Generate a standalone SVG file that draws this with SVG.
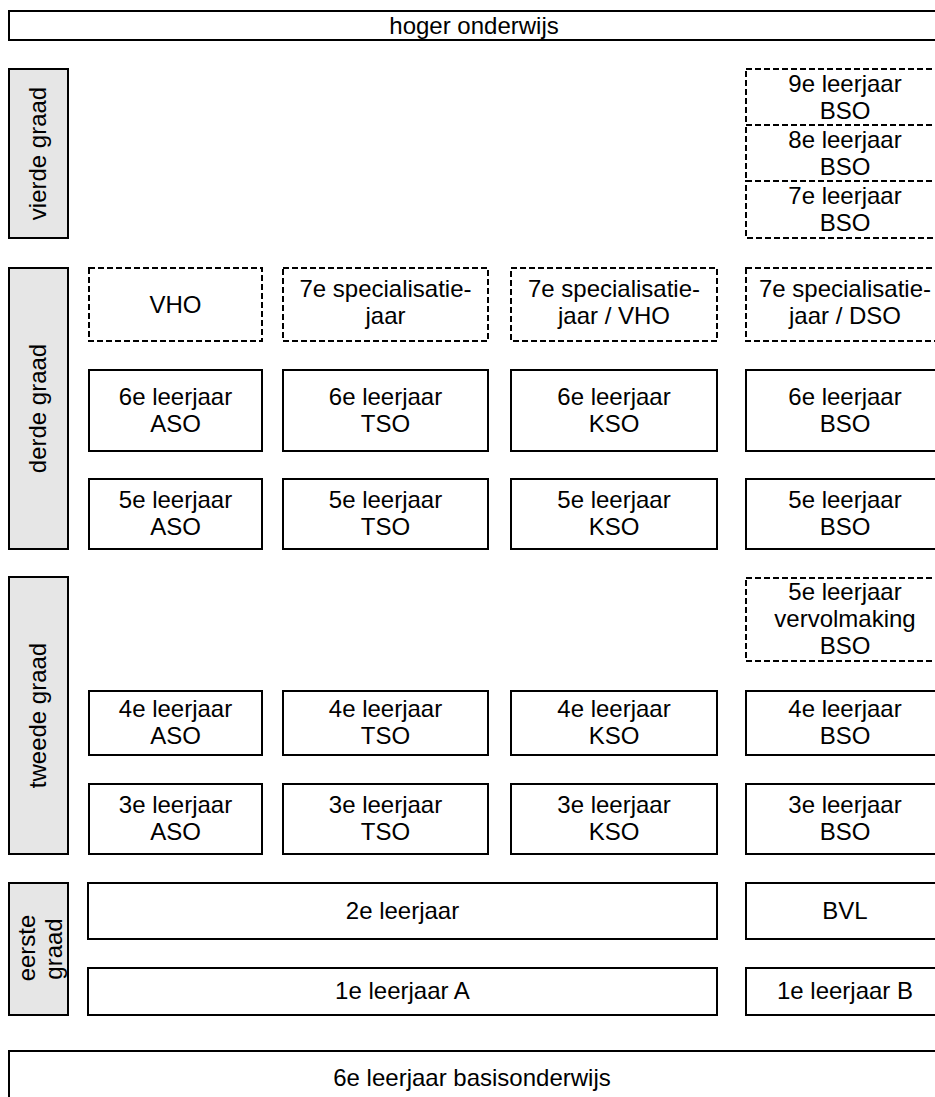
<svg xmlns="http://www.w3.org/2000/svg" width="935" height="1097" viewBox="0 0 935 1097">
<style>
.bx{fill:#fff;stroke:#000;stroke-width:2}
.ds{fill:#fff;stroke:#000;stroke-width:2;stroke-dasharray:6 3}
.sb{fill:#e6e6e6;stroke:#000;stroke-width:2}
text{font-family:"Liberation Sans",Arial,sans-serif;font-size:24px;fill:#000;text-anchor:middle}
</style>
<rect width="935" height="1097" fill="#fff"/>
<g id="hoger"><rect class="bx" x="9" y="11" width="935" height="29"/><text x="474" y="34">hoger onderwijs</text></g>

<g id="vierde-graad"><rect class="sb" x="9" y="69" width="59" height="169"/><text transform="translate(46,153.5) rotate(-90)">vierde graad</text></g>
<g id="derde-graad"><rect class="sb" x="9" y="268" width="59" height="281"/><text transform="translate(46,408.5) rotate(-90)">derde graad</text></g>
<g id="tweede-graad"><rect class="sb" x="9" y="577" width="59" height="277"/><text transform="translate(46,715.5) rotate(-90)">tweede graad</text></g>
<g id="eerste-graad"><rect class="sb" x="9" y="883" width="59" height="132"/><text transform="translate(35,948) rotate(-90)">eerste</text><text transform="translate(62,949) rotate(-90)">graad</text></g>

<g id="bso9"><rect class="ds" x="746" y="69" width="200" height="56"/><text x="845" y="92">9e leerjaar</text><text x="845" y="119">BSO</text></g>
<g id="bso8"><rect class="ds" x="746" y="125" width="200" height="56"/><text x="845" y="148">8e leerjaar</text><text x="845" y="175">BSO</text></g>
<g id="bso7"><rect class="ds" x="746" y="181" width="200" height="57"/><text x="845" y="204">7e leerjaar</text><text x="845" y="231">BSO</text></g>

<g id="vho"><rect class="ds" x="89" y="268" width="173" height="73"/><text x="175.5" y="313">VHO</text></g>
<g id="spec-tso"><rect class="ds" x="283" y="268" width="205" height="73"/><text x="385.5" y="297">7e specialisatie-</text><text x="385.5" y="324">jaar</text></g>
<g id="spec-kso"><rect class="ds" x="511" y="268" width="206" height="73"/><text x="614" y="297">7e specialisatie-</text><text x="614" y="324">jaar / VHO</text></g>
<g id="spec-bso"><rect class="ds" x="746" y="268" width="200" height="73"/><text x="845" y="297">7e specialisatie-</text><text x="845" y="324">jaar / DSO</text></g>

<g id="aso6"><rect class="bx" x="89" y="370" width="173" height="81"/><text x="175.5" y="405">6e leerjaar</text><text x="175.5" y="432">ASO</text></g>
<g id="tso6"><rect class="bx" x="283" y="370" width="205" height="81"/><text x="385.5" y="405">6e leerjaar</text><text x="385.5" y="432">TSO</text></g>
<g id="kso6"><rect class="bx" x="511" y="370" width="206" height="81"/><text x="614" y="405">6e leerjaar</text><text x="614" y="432">KSO</text></g>
<g id="bso6"><rect class="bx" x="746" y="370" width="200" height="81"/><text x="845" y="405">6e leerjaar</text><text x="845" y="432">BSO</text></g>

<g id="aso5"><rect class="bx" x="89" y="479" width="173" height="70"/><text x="175.5" y="508">5e leerjaar</text><text x="175.5" y="535">ASO</text></g>
<g id="tso5"><rect class="bx" x="283" y="479" width="205" height="70"/><text x="385.5" y="508">5e leerjaar</text><text x="385.5" y="535">TSO</text></g>
<g id="kso5"><rect class="bx" x="511" y="479" width="206" height="70"/><text x="614" y="508">5e leerjaar</text><text x="614" y="535">KSO</text></g>
<g id="bso5"><rect class="bx" x="746" y="479" width="200" height="70"/><text x="845" y="508">5e leerjaar</text><text x="845" y="535">BSO</text></g>

<g id="bso5v"><rect class="ds" x="746" y="578" width="200" height="83"/><text x="845" y="600">5e leerjaar</text><text x="845" y="627">vervolmaking</text><text x="845" y="654">BSO</text></g>

<g id="aso4"><rect class="bx" x="89" y="691" width="173" height="64"/><text x="175.5" y="717">4e leerjaar</text><text x="175.5" y="744">ASO</text></g>
<g id="tso4"><rect class="bx" x="283" y="691" width="205" height="64"/><text x="385.5" y="717">4e leerjaar</text><text x="385.5" y="744">TSO</text></g>
<g id="kso4"><rect class="bx" x="511" y="691" width="206" height="64"/><text x="614" y="717">4e leerjaar</text><text x="614" y="744">KSO</text></g>
<g id="bso4"><rect class="bx" x="746" y="691" width="200" height="64"/><text x="845" y="717">4e leerjaar</text><text x="845" y="744">BSO</text></g>

<g id="aso3"><rect class="bx" x="89" y="784" width="173" height="70"/><text x="175.5" y="813">3e leerjaar</text><text x="175.5" y="840">ASO</text></g>
<g id="tso3"><rect class="bx" x="283" y="784" width="205" height="70"/><text x="385.5" y="813">3e leerjaar</text><text x="385.5" y="840">TSO</text></g>
<g id="kso3"><rect class="bx" x="511" y="784" width="206" height="70"/><text x="614" y="813">3e leerjaar</text><text x="614" y="840">KSO</text></g>
<g id="bso3"><rect class="bx" x="746" y="784" width="200" height="70"/><text x="845" y="813">3e leerjaar</text><text x="845" y="840">BSO</text></g>

<g id="lj2"><rect class="bx" x="88" y="883" width="629" height="56"/><text x="402.5" y="919">2e leerjaar</text></g>
<g id="bvl"><rect class="bx" x="746" y="883" width="200" height="56"/><text x="845" y="919">BVL</text></g>
<g id="lj1a"><rect class="bx" x="88" y="968" width="629" height="47"/><text x="402.5" y="999">1e leerjaar A</text></g>
<g id="lj1b"><rect class="bx" x="746" y="968" width="200" height="47"/><text x="845" y="999">1e leerjaar B</text></g>

<g id="basis"><rect class="bx" x="9" y="1051" width="935" height="60"/><text x="472" y="1086">6e leerjaar basisonderwijs</text></g>
<g id="connectors"/>
</svg>
